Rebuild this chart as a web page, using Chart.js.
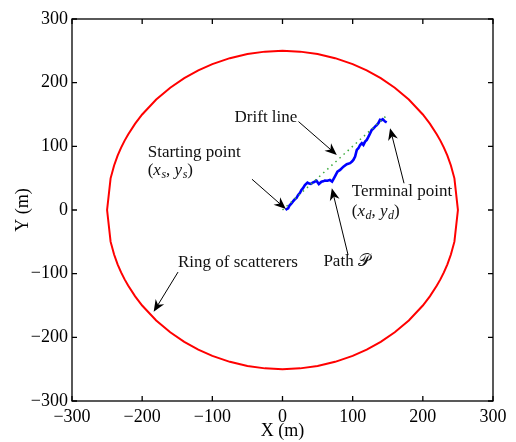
<!DOCTYPE html>
<html>
<head>
<meta charset="utf-8">
<script src="https://cdn.jsdelivr.net/npm/chart.js@4.4.0/dist/chart.umd.min.js"></script>
<style>body{margin:0;background:#fff}</style>
</head>
<body>
<canvas id="canvas" width="516" height="442"></canvas>
<script>
"use strict"
// ring of scatterers (radius 250), upper half left->right then lower half right->left
let ringX = [-250, -245, -240, -235, -230, -225, -220, -210, -200, -180, -160, -140, -120, -100, -75, -50, -25, 0,
             25, 50, 75, 100, 120, 140, 160, 180, 200, 210, 220, 225, 230, 235, 240, 245, 250,
             245, 240, 235, 230, 225, 220, 210, 200, 180, 160, 140, 120, 100, 75, 50, 25, 0,
             -25, -50, -75, -100, -120, -140, -160, -180, -200, -210, -220, -225, -230, -235, -240, -245, -250];
let ringY = [0, 49.75, 70, 85.29, 97.98, 108.97, 118.74, 135.65, 150, 173.49, 192.09, 207.12, 219.32, 229.13, 238.48, 244.95, 248.75, 250,
             248.75, 244.95, 238.48, 229.13, 219.32, 207.12, 192.09, 173.49, 150, 135.65, 118.74, 108.97, 97.98, 85.29, 70, 49.75, 0,
             -49.75, -70, -85.29, -97.98, -108.97, -118.74, -135.65, -150, -173.49, -192.09, -207.12, -219.32, -229.13, -238.48, -244.95, -248.75, -250,
             -248.75, -244.95, -238.48, -229.13, -219.32, -207.12, -192.09, -173.49, -150, -135.65, -118.74, -108.97, -97.98, -85.29, -70, -49.75, 0];
// path P
let pathX = [4.3, 6, 8.1, 10, 12.8, 15, 17.6, 20, 22.3, 25, 27, 29, 31.9, 35.6, 38, 40.4, 43, 45.1, 48.4, 51.8, 55.5, 58, 60.3, 64,
             67.5, 70.7, 74.6, 78.3, 82.1, 86.8, 91.6, 96.3, 99, 101, 103.5, 105.9, 108.2, 110.6, 113, 115.3, 117.7, 120.1, 122,
             123.8, 127.2, 129.5, 131.9, 134, 136.6, 139, 141, 142.9, 146.2, 148.5];
let pathY = [0, 1.5, 2.7, 7, 10.5, 13.5, 16.8, 19, 23.6, 27, 31.5, 34, 39.3, 42.9, 41.5, 40.9, 43, 44, 46.1, 40.9, 44.5, 45, 46.1, 46,
             47.2, 44.5, 52.4, 60.2, 62.9, 68.1, 71.9, 73.5, 76, 78.6, 83.8, 94.4, 97, 102.2, 104.9, 102.2, 107.4, 110.1, 114,
             118, 125.8, 128, 131, 133, 136.4, 141.6, 141, 142.7, 138.9, 137.5];
// drift line
let driftX = [0, 148];
let driftY = [0, 148];
let tickValues = [-300, -200, -100, 0, 100, 200, 300];

let toPoints = (xs, ys) => xs.map((x, i) => ({x: x, y: ys[i]}));

// annotations in data units (text: left/baseline, arrows: from -> tip)
let labels = [
    {x: -68.3, y: 138.9, parts: [["Drift line"]]},
    {x: -192.1, y: 83.8, parts: [["Starting point"]]},
    {x: -192.1, y: 55.5, parts: [["("], ["x", "i"], ["s", "is"], [", "], ["y", "i"], ["s", "is"], [")"]]},
    {x: 98.8, y: 22.5, parts: [["Terminal point"]]},
    {x: 98.8, y: -9.4, parts: [["("], ["x", "i"], ["d", "is"], [", "], ["y", "i"], ["d", "is"], [")"]]},
    {x: 58.3, y: -87.6, parts: [["Path "], ["\u{1D4AB}"]]},
    {x: -148.9, y: -90.1, parts: [["Ring of scatterers"]]}
];
let arrows = [
    [22.8, 138.9, 77.4, 86.5],
    [-43.5, 48.3, 4.8, 1.6],
    [173.2, 42.0, 153.3, 128.5],
    [93.5, -70.8, 70.3, 34.1],
    [-148.9, -97.5, -183.6, -160]
];

let serif = "'Liberation Serif', 'DejaVu Serif', serif";

let overlay = {
    id: "overlay",
    afterDatasetsDraw(chart) {
        let ctx = chart.ctx, a = chart.chartArea, sx = chart.scales.x, sy = chart.scales.y;
        ctx.save();
        ctx.strokeStyle = "#000";
        ctx.lineWidth = 1.3;
        ctx.strokeRect(a.left, a.top, a.right - a.left, a.bottom - a.top);
        ctx.beginPath();
        tickValues.forEach(v => {
            let px = sx.getPixelForValue(v), py = sy.getPixelForValue(v);
            ctx.moveTo(px, a.bottom); ctx.lineTo(px, a.bottom - 5);
            ctx.moveTo(px, a.top); ctx.lineTo(px, a.top + 5);
            ctx.moveTo(a.left, py); ctx.lineTo(a.left + 5, py);
            ctx.moveTo(a.right, py); ctx.lineTo(a.right - 5, py);
        });
        ctx.stroke();

        // arrows
        ctx.lineWidth = 1;
        ctx.fillStyle = "#000";
        arrows.forEach(r => {
            let x1 = sx.getPixelForValue(r[0]), y1 = sy.getPixelForValue(r[1]);
            let x2 = sx.getPixelForValue(r[2]), y2 = sy.getPixelForValue(r[3]);
            let ang = Math.atan2(y2 - y1, x2 - x1);
            let L = 12, W = 5;
            ctx.beginPath();
            ctx.moveTo(x1, y1);
            ctx.lineTo(x2 - Math.cos(ang) * 6, y2 - Math.sin(ang) * 6);
            ctx.stroke();
            ctx.save();
            ctx.translate(x2, y2);
            ctx.rotate(ang);
            ctx.beginPath();
            ctx.moveTo(0, 0);
            ctx.lineTo(-L, -W);
            ctx.lineTo(-L * 0.7, 0);
            ctx.lineTo(-L, W);
            ctx.closePath();
            ctx.fill();
            ctx.restore();
        });

        // text
        ctx.fillStyle = "#111";
        ctx.textBaseline = "alphabetic";
        ctx.textAlign = "left";
        labels.forEach(l => {
            let x = sx.getPixelForValue(l.x), y = sy.getPixelForValue(l.y);
            l.parts.forEach(p => {
                let st = p[1] || "";
                let sub = st.indexOf("s") >= 0;
                ctx.font = (st.indexOf("i") >= 0 ? "italic " : "") + (sub ? "12px " : "17px ") + serif;
                ctx.fillText(p[0], x, y + (sub ? 3 : 0));
                x += ctx.measureText(p[0]).width + (st === "i" ? 0.5 : 0);
            });
        });
        ctx.restore();
    }
};

let tickFont = {family: serif, size: 18};

let chartOptions = {
    type: "scatter",
    data: {
        datasets: [
            {data: toPoints(ringX, ringY), showLine: true, borderColor: "#ff0000", borderWidth: 2, pointRadius: 0, tension: 0},
            {data: toPoints(driftX, driftY), showLine: true, borderColor: "rgb(60,170,60)", borderWidth: 1.5, borderDash: [1.5, 4], pointRadius: 0},
            {data: toPoints(pathX, pathY), showLine: true, borderColor: "#0000ff", borderWidth: 2.6, pointRadius: 0}
        ]
    },
    options: {
        responsive: false,
        animation: false,
        layout: {padding: {top: 19, right: 23, left: 0, bottom: 0}},
        plugins: {legend: {display: false}, tooltip: {enabled: false}},
        scales: {
            x: {
                type: "linear", min: -300, max: 300,
                grid: {display: false, drawTicks: false}, border: {display: false},
                ticks: {stepSize: 100, padding: 5, color: "#000", font: tickFont, maxRotation: 0,
                        callback: v => String(v).replace("-", "\u2212")},
                title: {display: true, text: "X (m)", color: "#000", font: {family: serif, size: 18, lineHeight: 1.2}, padding: {top: 0, bottom: 0}},
                afterFit: s => { s.height = 41; }
            },
            y: {
                type: "linear", min: -300, max: 300,
                grid: {display: false, drawTicks: false}, border: {display: false},
                ticks: {stepSize: 100, padding: 4, color: "#000", font: tickFont,
                        callback: v => String(v).replace("-", "\u2212")},
                title: {display: true, text: "Y (m)", color: "#000", font: {family: serif, size: 18, lineHeight: 1.2}, padding: {top: 12, bottom: 0}},
                afterFit: s => { s.width = 72; }
            }
        }
    },
    plugins: [overlay]
};

let chart = new Chart(document.getElementById("canvas"), chartOptions);
</script>
</body>
</html>
